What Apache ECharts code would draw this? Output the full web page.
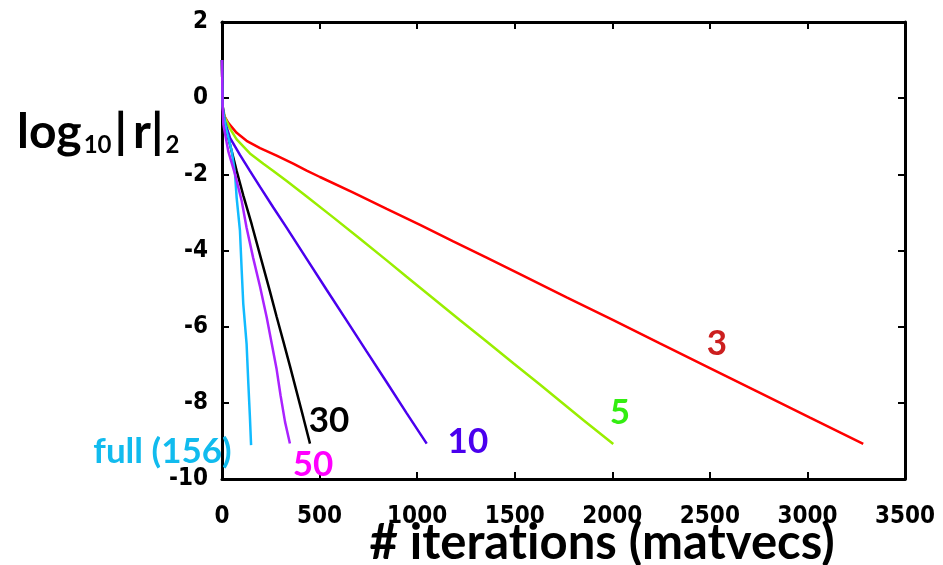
<!DOCTYPE html>
<html>
<head>
<meta charset="utf-8">
<script src="https://cdn.jsdelivr.net/npm/echarts@6/dist/echarts.min.js"></script>
<style>
html,body{margin:0;padding:0;background:#fff;}
#chart{width:943px;height:565px;}
</style>
</head>
<body>
<div id="chart"></div>
<script>
// ---- data ----
const xTicks = [0, 500, 1000, 1500, 2000, 2500, 3000, 3500];
const yTicks = [-10, -8, -6, -4, -2, 0, 2];

const seriesNames = ['3', '5', '10', '30', '50', 'full (156)'];

const red3 = [[0,1.0],[3,-0.2],[7,-0.38],[15,-0.5],[32,-0.65],[75,-0.91],[126,-1.12],[195,-1.31],[280,-1.51],[365,-1.72],[434,-1.90],[502,-2.07],[673,-2.48],[844,-2.91],[1015,-3.33],[1185,-3.76],[1356,-4.19],[1527,-4.62],[1766,-5.23],[2005,-5.83],[2244,-6.44],[2500,-7.09],[2757,-7.74],[3013,-8.39],[3286,-9.08]];
const green5 = [[0,1.0],[3,-0.2],[15,-0.51],[41,-0.80],[75,-1.08],[143,-1.45],[212,-1.72],[263,-1.91],[330,-2.17],[434,-2.58],[570,-3.13],[707,-3.69],[844,-4.26],[946,-4.69],[1083,-5.26],[1220,-5.83],[1356,-6.39],[1493,-6.96],[1629,-7.52],[1732,-7.95],[1851,-8.45],[2005,-9.08]];
const blue10 = [[0,1.0],[3,-0.2],[15,-0.62],[41,-1.04],[92,-1.49],[143,-1.91],[195,-2.33],[263,-2.87],[331,-3.40],[434,-4.22],[536,-5.03],[639,-5.84],[741,-6.65],[844,-7.46],[946,-8.27],[1049,-9.07]];
const black30 = [[0,1.0],[3,-0.2],[7,-0.51],[32,-1.04],[58,-1.56],[75,-1.91],[109,-2.55],[152,-3.31],[195,-4.12],[246,-5.08],[280,-5.74],[314,-6.38],[348,-7.03],[383,-7.72],[417,-8.39],[451,-9.07]];
const purple50 = [[0,1.0],[3,-0.2],[7,-0.69],[32,-1.39],[67,-2.00],[101,-2.70],[126,-3.40],[160,-4.20],[195,-4.95],[229,-5.75],[255,-6.45],[280,-7.12],[300,-7.80],[323,-8.50],[348,-9.07]];
const cyanFull = [[0,1.0],[3,-0.2],[10,-0.5],[24,-0.86],[50,-1.39],[67,-2.00],[75,-2.61],[92,-3.48],[101,-4.53],[109,-5.40],[126,-6.45],[135,-7.50],[143,-8.37],[149,-9.11]];

// label anchor positions (data coordinates)
const labelPos = [[2536,-6.44],[2039,-8.27],[1260,-9.03],[548,-8.46],[466,-9.63],[-305,-9.29]];

const lineColors = ['#ff0000', '#99ee00', '#4a00ee', '#000000', '#aa22ff', '#11bbff'];
const labelColors = ['#cc1f1f', '#33ee11', '#4a00ee', '#000000', '#ff00ff', '#11bbee'];
const zOrder = [2, 3, 4, 5, 7, 6];

const allSeriesData = [red3, green5, blue10, black30, purple50, cyanFull];

const chart = echarts.init(document.getElementById('chart'), null, {renderer: 'canvas'});

const tickFont = {fontFamily: "'DejaVu Sans Condensed', 'Roboto', sans-serif", fontWeight: 'bold', fontSize: 24, color: '#000'};

const series = [];
allSeriesData.forEach((d, i) => {
  series.push({
    type: 'line', name: seriesNames[i], data: d, showSymbol: false, symbol: 'none',
    lineStyle: {color: lineColors[i], width: 2.5}, z: zOrder[i], animation: false
  });
});
series.push({
  type: 'scatter', clip: false, symbolSize: 1, animation: false, z: 20,
  itemStyle: {color: 'rgba(0,0,0,0)', opacity: 1},
  data: labelPos.map((p, i) => ({
    value: p,
    label: {show: true, position: 'inside', formatter: seriesNames[i], color: labelColors[i], opacity: 1,
      fontFamily: 'Lato', fontWeight: 'bold', fontSize: 35}
  }))
});

const axisLine = {show: true, onZero: false, lineStyle: {color: '#000', width: 3}};
const axisTick = {show: true, inside: true, length: 7, lineStyle: {color: '#000', width: 2}};
const nameFont = {fontFamily: 'Lato', fontWeight: 'bold', fontSize: 49, color: '#000'};

chart.setOption({
  animation: false,
  backgroundColor: '#fff',
  grid: {left: 222, right: 38, top: 22, bottom: 86, containLabel: false},
  title: [
    {text: '{a|log}{s|10}{a||\u2009r|}{s|2}', left: 12, top: 104,
      textStyle: {rich: {
        a: {fontFamily: 'Lato', fontWeight: 'bold', fontSize: 48, color: '#000'},
        s: {fontFamily: 'Lato', fontWeight: 'bold', fontSize: 24, color: '#000', verticalAlign: 'bottom', padding: [24, 3, 0, 2]}
      }}},
    {text: '{n|# iterat}{n|ions (matvecs)}', left: 597, top: 514, textAlign: 'center',
      textStyle: {rich: {n: nameFont}}}
  ],
  xAxis: [
    {type: 'value', position: 'bottom', min: xTicks[0], max: xTicks[xTicks.length-1], interval: 500,
      axisLine, axisTick, splitLine: {show: false},
      axisLabel: Object.assign({margin: 26, formatter: v => String(v)}, tickFont)},
    {type: 'value', position: 'top', min: xTicks[0], max: xTicks[xTicks.length-1], interval: 500,
      axisLine, axisTick, splitLine: {show: false}, axisLabel: {show: false}}
  ],
  yAxis: [
    {type: 'value', position: 'left', min: yTicks[0], max: yTicks[yTicks.length-1], interval: 2,
      axisLine, axisTick, splitLine: {show: false},
      axisLabel: Object.assign({margin: 14, formatter: v => String(v)}, tickFont)},
    {type: 'value', position: 'right', min: yTicks[0], max: yTicks[yTicks.length-1], interval: 2,
      axisLine, axisTick, splitLine: {show: false}, axisLabel: {show: false}}
  ],
  series
});
</script>
</body>
</html>
